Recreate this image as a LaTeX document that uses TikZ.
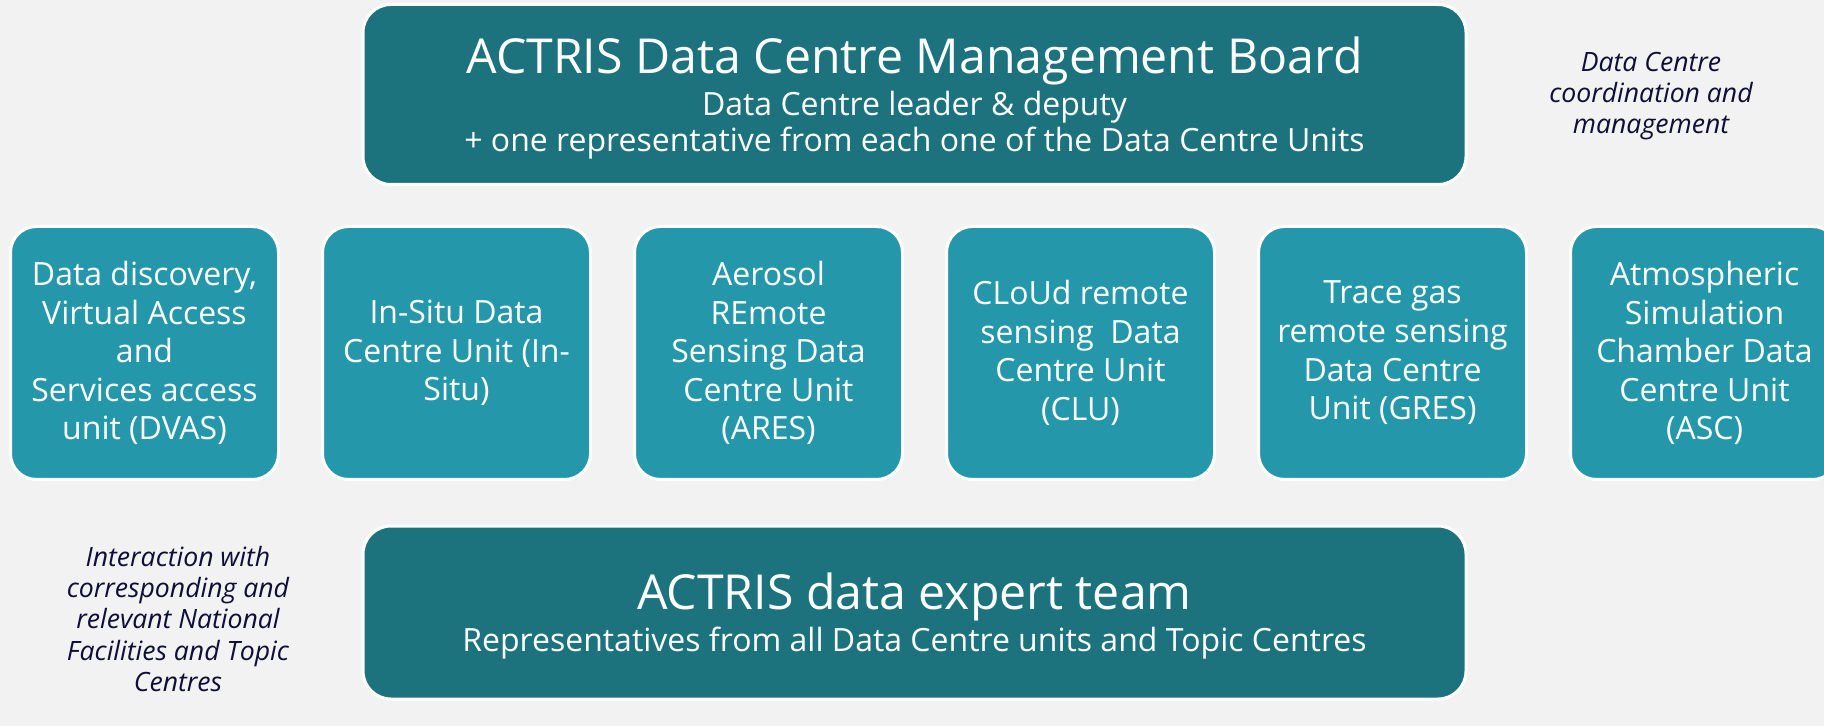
\documentclass[tikz,border=0pt]{standalone}
\usepackage{fontspec}
\setmainfont{Open Sans}
\definecolor{boardteal}{HTML}{1C727D}
\definecolor{unitteal}{HTML}{2498AA}
\definecolor{paper}{HTML}{F2F2F2}
\definecolor{notenavy}{HTML}{0E0E36}
\begin{document}
\begin{tikzpicture}[x=.5pt,y=-.5pt,
 board/.style={fill=boardteal,draw=white,line width=1.5pt,rounded corners=14pt,
  minimum width=551.5pt,text=white,align=center,inner sep=0pt,text depth=0pt,
  font=\fontsize{16}{18}\selectfont},
 unit/.style={fill=unitteal,draw=white,line width=1.5pt,rounded corners=13pt,
  minimum width=134pt,minimum height=126.5pt,text=white,align=center,inner sep=0pt,
  font=\fontsize{16}{19.3}\selectfont},
 note/.style={text=notenavy,align=center,inner sep=0pt,
  font=\fontsize{13.3}{15.7}\selectfont\itshape}]
 \useasboundingbox[fill=paper] (0,0) rectangle (1824,726);
 % <<< board
 \node[board,minimum height=90pt] (board) at (914.5,94.5)
  {{\fontsize{24.1}{24.1}\selectfont ACTRIS Data Centre Management Board}\\[3pt]
  Data Centre leader \& deputy\\
  + one representative from each one of the Data Centre Units};
 % <<< units
 \path (144.5,353) node[unit] (dvas)
  {Data discovery,\\Virtual Access\\and\\Services access\\unit (DVAS)}
 ++(312,0) node[unit] (insitu) {In-Situ Data\\Centre Unit (In-\\Situ)}
 ++(312,0) node[unit] (ares)
  {Aerosol\\REmote\\Sensing Data\\Centre Unit\\(ARES)}
 ++(312,0) node[unit] (clu) {CLoUd remote\\sensing~ Data\\Centre Unit\\(CLU)}
 ++(312,0) node[unit] (gres)
  {Trace gas\\remote sensing\\Data Centre\\Unit (GRES)}
 ++(312,0) node[unit] (asc)
  {Atmospheric\\Simulation\\Chamber Data\\Centre Unit\\(ASC)};
 % <<< expert team
 \node[board,minimum height=86.5pt] (team) at (914.5,612.5)
  {{\fontsize{24.1}{24.1}\selectfont ACTRIS data expert team}\\[2pt]
  Representatives from all Data Centre units and Topic Centres};
 % <<< notes
 \node[note] (coord) at (1651,96)
  {Data Centre\\coordination and\\management};
 \node[note] (interact) at (178,619)
  {Interaction with\\corresponding and\\relevant National\\Facilities and Topic\\Centres};
\end{tikzpicture}
\end{document}
